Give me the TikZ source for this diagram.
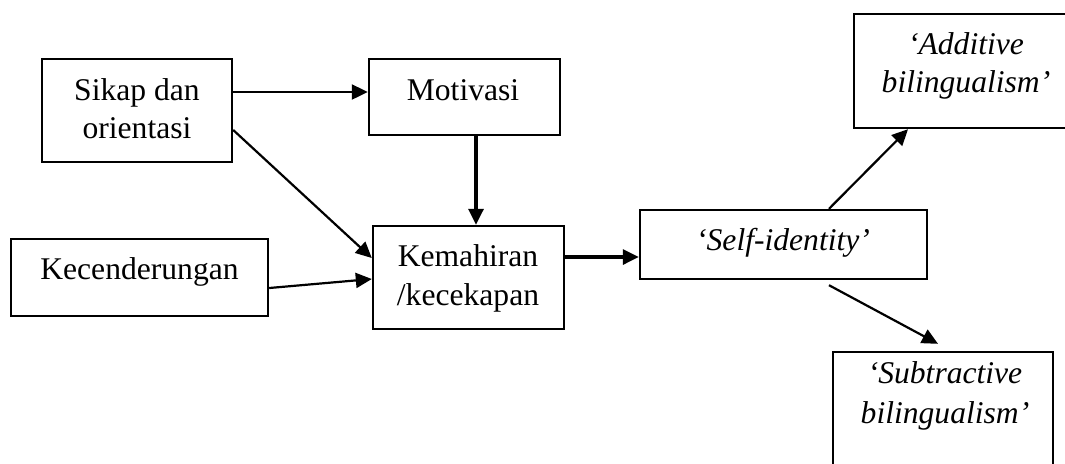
\documentclass[tikz,border=0pt]{standalone}
\usepackage{fontspec}
\setmainfont{Liberation Serif}[ItalicFont={Liberation Serif Italic},BoldFont={Liberation Serif Bold}]
\usetikzlibrary{arrows.meta}
\begin{document}
\begin{tikzpicture}[x=0.5pt,y=-0.5pt,
  box/.style={draw,line width=1.2pt,rectangle,inner sep=0pt},
  txt/.style={anchor=base,inner sep=0pt,font=\fontsize{15.8}{19}\selectfont},
  itx/.style={txt,font=\fontsize{15.8}{19}\selectfont\itshape},
  arr/.style={line width=1.1pt,-{Triangle[length=8pt,width=7.5pt]}},
  arrb/.style={line width=1.6pt,-{Triangle[length=8pt,width=7.5pt]}}]
\useasboundingbox (0,0) rectangle (1065,463);
% boxes
\node[box,minimum width=95pt,minimum height=51.5pt] (sikap) at (137,110.5) {};
\node[box,minimum width=95.5pt,minimum height=38pt] (mot) at (464.5,97) {};
\node[box,minimum width=128.5pt,minimum height=38.5pt] (kec) at (139.5,277.5) {};
\node[box,minimum width=95.5pt,minimum height=51.5pt] (kem) at (468.5,277.5) {};
\node[box,minimum width=143.5pt,minimum height=34.5pt] (self) at (783.5,244.5) {};
\node[box,minimum width=112pt,minimum height=57pt] (add) at (966,71) {};
\node[box,minimum width=110pt,minimum height=64pt] (sub) at (943,416) {};
% texts
\node[txt] (sikapA) at (137,100) {Sikap dan};
\node[txt] (sikapB) at (137,138) {orientasi};
\node[txt] (motT) at (463,100) {Motivasi};
\node[txt] (kecT) at (139.5,279) {Kecenderungan};
\node[txt] (kemA) at (468,266) {Kemahiran};
\node[txt] (kemB) at (468,305) {/kecekapan};
\node[itx] (selfT) at (783,250) {‘Self-identity’};
\node[itx] (addA) at (966,54) {‘Additive};
\node[itx] (addB) at (966,92) {bilingualism’};
\node[itx] (subA) at (945,383) {‘Subtractive};
\node[itx] (subB) at (945,423) {bilingualism’};
% connectors
\draw[arr] (sikap.east |- 0,92) -- (mot.west |- 0,92);
\draw[arrb] (mot.south -| 476,0) -- (kem.north -| 476,0);
\draw[arr] (sikap.east |- 0,130) -- (kem.west |- 0,258);
\draw[arr] (kec.east |- 0,288) -- (kem.west |- 0,279);
\draw[arrb] (kem.east |- 0,257) -- (self.west |- 0,257);
\draw[arr] (self.north -| 829,0) -- (add.south -| 908,0);
\draw[arr] ([yshift=-2.5pt]self.south -| 829,0) -- ([yshift=3.5pt]sub.north -| 938,0);
\end{tikzpicture}
\end{document}
